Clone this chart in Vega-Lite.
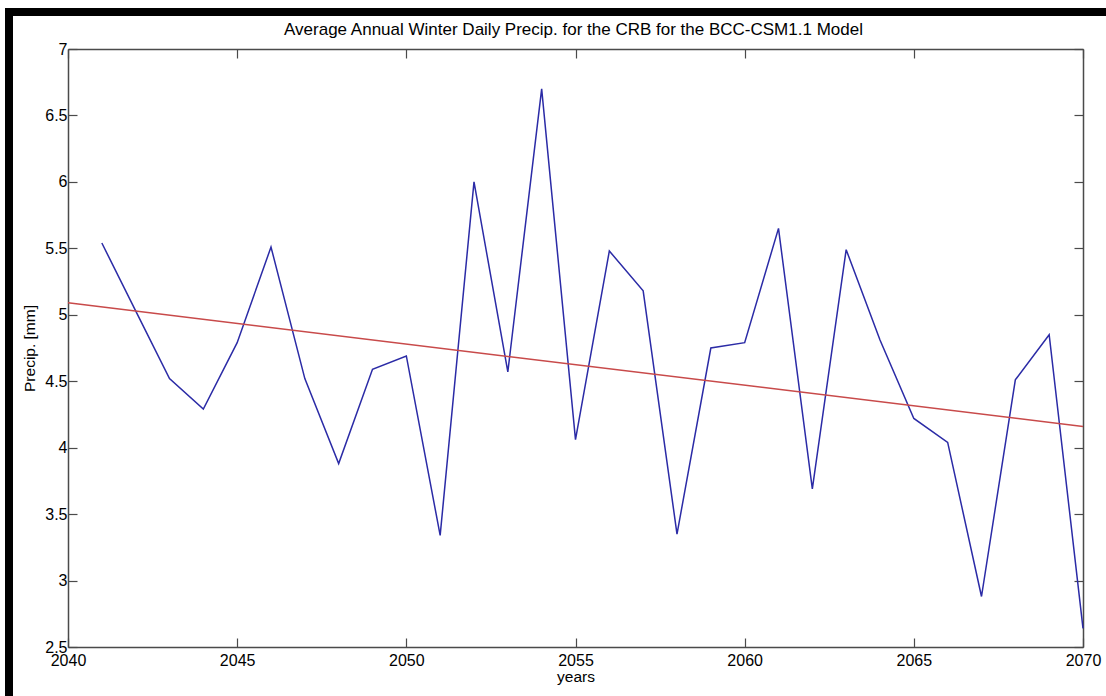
{
  "$schema": "https://vega.github.io/schema/vega-lite/v6.json",
  "width": 1101,
  "height": 688,
  "autosize": "none",
  "padding": {"left": 9, "top": 12, "right": 0, "bottom": 0},
  "background": "white",
  "title": {
    "text": "Average Annual Winter Daily Precip. for the CRB for the BCC-CSM1.1 Model",
    "font": "Liberation Sans",
    "fontSize": 17,
    "fontWeight": "normal",
    "color": "black",
    "anchor": "middle",
    "frame": "group",
    "dx": 14,
    "offset": -27
  },
  "config": {
    "view": {"stroke": "black", "strokeWidth": 8, "fill": "white"},
    "axis": {
      "labelFont": "Liberation Sans",
      "labelFontSize": 16,
      "labelColor": "black",
      "titleFont": "Liberation Sans",
      "titleFontSize": 15.5,
      "titleFontWeight": "normal",
      "titleColor": "black",
      "domainColor": "#4a4a4a",
      "domainWidth": 1.5,
      "tickColor": "#4a4a4a",
      "tickWidth": 1.2,
      "tickSize": -9,
      "grid": false
    }
  },
  "datasets": {
    "precip": [
      {"year": 2041, "value": 5.54},
      {"year": 2042, "value": 5.03},
      {"year": 2043, "value": 4.52},
      {"year": 2044, "value": 4.29},
      {"year": 2045, "value": 4.79},
      {"year": 2046, "value": 5.51},
      {"year": 2047, "value": 4.52},
      {"year": 2048, "value": 3.88},
      {"year": 2049, "value": 4.59},
      {"year": 2050, "value": 4.69},
      {"year": 2051, "value": 3.34},
      {"year": 2052, "value": 6.0},
      {"year": 2053, "value": 4.57},
      {"year": 2054, "value": 6.7},
      {"year": 2055, "value": 4.06},
      {"year": 2056, "value": 5.48},
      {"year": 2057, "value": 5.18},
      {"year": 2058, "value": 3.35},
      {"year": 2059, "value": 4.75},
      {"year": 2060, "value": 4.79},
      {"year": 2061, "value": 5.65},
      {"year": 2062, "value": 3.69},
      {"year": 2063, "value": 5.49},
      {"year": 2064, "value": 4.81},
      {"year": 2065, "value": 4.22},
      {"year": 2066, "value": 4.04},
      {"year": 2067, "value": 2.88},
      {"year": 2068, "value": 4.51},
      {"year": 2069, "value": 4.85},
      {"year": 2070, "value": 2.64}
    ],
    "trend": [
      {"year": 2040, "value": 5.09},
      {"year": 2070, "value": 4.16}
    ]
  },
  "layer": [
    {
      "data": {"name": "precip"},
      "mark": {"type": "line", "color": "#2b2ba6", "strokeWidth": 1.5},
      "encoding": {
        "x": {
          "field": "year",
          "type": "quantitative",
          "scale": {"domain": [2040, 2070], "range": [59, 1074], "nice": false, "zero": false},
          "axis": {
            "orient": "bottom",
            "offset": -53,
            "title": "years",
            "values": [2040, 2045, 2050, 2055, 2060, 2065, 2070],
            "format": "d",
            "labelPadding": 14,
            "titlePadding": 1,
            "labelFlush": false
          }
        },
        "y": {
          "field": "value",
          "type": "quantitative",
          "scale": {"domain": [2.5, 7], "range": [635, 37], "nice": false, "zero": false},
          "axis": {
            "orient": "left",
            "offset": -59,
            "title": "Precip. [mm]",
            "values": [2.5, 3, 3.5, 4, 4.5, 5, 5.5, 6, 6.5, 7],
            "format": "~g",
            "labelPadding": 10,
            "titlePadding": 7,
            "labelFlush": false
          }
        }
      }
    },
    {
      "data": {"name": "trend"},
      "mark": {"type": "line", "color": "#c84a4a", "strokeWidth": 1.5},
      "encoding": {
        "x": {
          "field": "year",
          "type": "quantitative",
          "scale": {"domain": [2040, 2070], "range": [59, 1074], "nice": false, "zero": false},
          "axis": {
            "orient": "top",
            "offset": -37,
            "title": null,
            "labels": false,
            "values": [2040, 2045, 2050, 2055, 2060, 2065, 2070]
          }
        },
        "y": {
          "field": "value",
          "type": "quantitative",
          "scale": {"domain": [2.5, 7], "range": [635, 37], "nice": false, "zero": false},
          "axis": {
            "orient": "right",
            "offset": -27,
            "title": null,
            "labels": false,
            "values": [2.5, 3, 3.5, 4, 4.5, 5, 5.5, 6, 6.5, 7]
          }
        }
      }
    }
  ],
  "resolve": {"axis": {"x": "independent", "y": "independent"}}
}
